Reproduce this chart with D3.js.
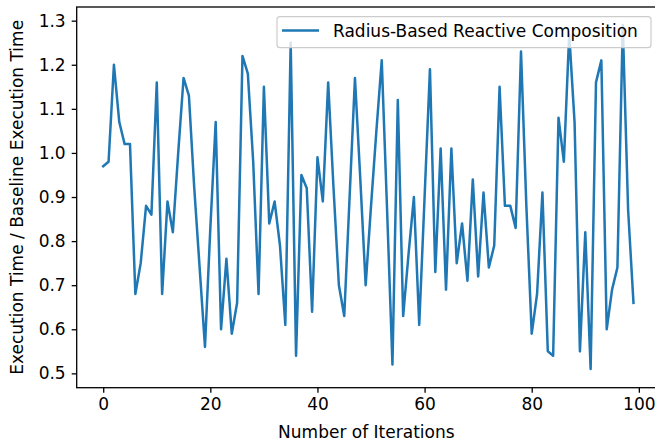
<!DOCTYPE html>
<html>
<head>
<meta charset="utf-8">
<script src="https://cdn.jsdelivr.net/npm/d3@7"></script>
<style>
  html, body { margin: 0; padding: 0; background: #fff; }
  svg { display: block; font-family: "DejaVu Sans", sans-serif; }
</style>
</head>
<body>
<svg id="chart" width="655" height="443"></svg>
<script>
// ---- Data ----
const seriesName = "Radius-Based Reactive Composition";
const iterations = d3.range(0, 100);
const ratios = [
  0.97, 0.98, 1.20, 1.07, 1.02, 1.02, 0.68, 0.75, 0.88, 0.86,
  1.16, 0.68, 0.89, 0.82, 1.00, 1.17, 1.13, 0.92, 0.74, 0.56,
  0.83, 1.07, 0.60, 0.76, 0.59, 0.66, 1.22, 1.18, 0.98, 0.68,
  1.15, 0.84, 0.89, 0.79, 0.61, 1.25, 0.54, 0.95, 0.92, 0.64,
  0.99, 0.89, 1.16, 0.92, 0.70, 0.63, 0.90, 1.17, 0.94, 0.70,
  0.88, 1.05, 1.21, 0.87, 0.52, 1.12, 0.63, 0.77, 0.90, 0.61,
  0.90, 1.19, 0.73, 1.01, 0.69, 1.01, 0.75, 0.84, 0.71, 0.94,
  0.72, 0.91, 0.74, 0.79, 1.15, 0.88, 0.88, 0.83, 1.23, 0.88,
  0.59, 0.68, 0.91, 0.55, 0.54, 1.08, 0.98, 1.27, 1.07, 0.55,
  0.82, 0.51, 1.16, 1.21, 0.60, 0.69, 0.74, 1.29, 0.87, 0.66
];
const xTicks = [0, 20, 40, 60, 80, 100];
const yTicks = [0.5, 0.6, 0.7, 0.8, 0.9, 1.0, 1.1, 1.2, 1.3];
const xLabel = "Number of Iterations";
const yLabel = "Execution Time / Baseline Execution Time";

// ---- Layout ----
const plot = { left: 76.7, right: 660, top: 7, bottom: 387.7 };
const fontSize = 17;
const lineColor = "#1f77b4";

const svg = d3.select("#chart");

const x = d3.scaleLinear().domain([-4.95, 103.95]).range([plot.left, plot.right]);
const y = d3.scaleLinear().domain([0.4675, 1.331]).range([plot.bottom, plot.top]);

// Line
const line = d3.line().x((d, i) => x(iterations[i])).y(d => y(d));
svg.append("path")
  .datum(ratios)
  .attr("d", line)
  .attr("fill", "none")
  .attr("stroke", lineColor)
  .attr("stroke-width", 2.5)
  .attr("stroke-linejoin", "round")
  .attr("stroke-linecap", "square");

// Spines
const spineW = 1.3;
svg.append("rect")
  .attr("x", plot.left).attr("y", plot.top)
  .attr("width", plot.right - plot.left).attr("height", plot.bottom - plot.top)
  .attr("fill", "none").attr("stroke", "#000").attr("stroke-width", spineW);

// X axis
const xAxis = d3.axisBottom(x).tickValues(xTicks).tickFormat(d3.format("d"))
  .tickSizeInner(5).tickSizeOuter(0).tickPadding(5.5);
const gx = svg.append("g").attr("transform", `translate(0,${plot.bottom})`).call(xAxis);
gx.select(".domain").remove();
gx.selectAll(".tick line").attr("stroke", "#000").attr("stroke-width", spineW);
gx.selectAll(".tick text").attr("font-size", fontSize).attr("fill", "#000")
  .attr("font-family", "DejaVu Sans");

// Y axis
const yAxis = d3.axisLeft(y).tickValues(yTicks).tickFormat(d3.format(".1f"))
  .tickSizeInner(5).tickSizeOuter(0).tickPadding(6);
const gy = svg.append("g").attr("transform", `translate(${plot.left},0)`).call(yAxis);
gy.select(".domain").remove();
gy.selectAll(".tick line").attr("stroke", "#000").attr("stroke-width", spineW);
gy.selectAll(".tick text").attr("font-size", fontSize).attr("fill", "#000")
  .attr("font-family", "DejaVu Sans");

// Axis labels
svg.append("text")
  .attr("x", (plot.left + plot.right) / 2 - 2)
  .attr("y", 438)
  .attr("text-anchor", "middle")
  .attr("font-size", fontSize)
  .attr("fill", "#000")
  .text(xLabel);

svg.append("text")
  .attr("transform", `translate(23,${(plot.top + plot.bottom) / 2}) rotate(-90)`)
  .attr("text-anchor", "middle")
  .attr("font-size", fontSize)
  .attr("fill", "#000")
  .text(yLabel);

// Legend
const leg = svg.append("g");
leg.append("rect")
  .attr("x", 277).attr("y", 16.7)
  .attr("width", 374).attr("height", 31)
  .attr("rx", 3).attr("ry", 3)
  .attr("fill", "#fff").attr("fill-opacity", 0.8)
  .attr("stroke", "#cccccc").attr("stroke-width", 1.2);
leg.append("line")
  .attr("x1", 282).attr("x2", 319).attr("y1", 30.5).attr("y2", 30.5)
  .attr("stroke", lineColor).attr("stroke-width", 2.5);
leg.append("text")
  .attr("x", 333).attr("y", 37)
  .attr("font-size", fontSize).attr("fill", "#000")
  .text(seriesName);
</script>
</body>
</html>
